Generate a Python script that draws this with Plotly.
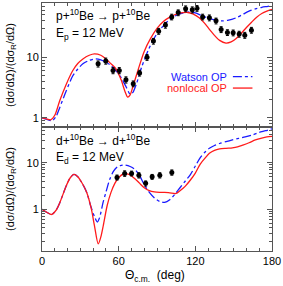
import plotly.graph_objects as go

# ---------------- data ----------------
# p + 10Be, top panel
theta_p_exp = [43.9, 49.9, 55.6, 60.5, 65.7, 71.4, 76.4, 82.2, 87.2, 91.3, 96.6, 101.5, 106.6,
               112.4, 117.6, 121.3, 125.7, 131.0, 136.2, 140.2, 145.1, 149.6, 154.3, 158.7, 163.9]
sig_p_exp = [7.8, 8.7, 6.05, 6.05, 4.25, 3.66, 5.5, 10.0, 18.5, 27.0, 34.0, 46.5, 54.7,
             63.5, 61.0, 64.5, 46.5, 45.0, 40.0, 28.8, 25.7, 25.4, 24.2, 23.2, 28.1]
err_p_exp = [0.9, 1.0, 0.7, 0.7, 0.5, 0.4, 0.6, 1.1, 2.0, 3.0, 3.7, 5.0, 6.0,
             7.0, 7.0, 7.0, 5.0, 5.0, 4.4, 3.2, 2.8, 2.8, 2.7, 2.6, 3.1]

theta_p_nl = [0, 4, 7, 10, 14, 19, 24, 28, 32, 37, 41, 46, 50, 54, 58, 62, 65, 67, 69, 71, 75,
              80, 85, 90, 95, 100, 106, 110, 114, 118, 123, 127, 131, 135, 139, 144, 148, 152,
              156, 160, 164, 168, 172, 176, 180]
sig_p_nl = [1.0, 0.95, 0.93, 1.1, 1.95, 3.6, 6.0, 7.9, 9.4, 10.8, 11.4, 10.8, 9.4, 7.8, 6.4, 4.2,
            2.7, 2.2, 2.4, 3.2, 6.0, 12.5, 20.5, 30, 39, 46, 52.7, 54.5, 55, 52, 45, 37, 29, 23,
            19, 17.2, 18, 20.5, 25, 31, 38, 46, 53, 58, 62]

theta_p_w = [0, 4, 8, 11, 14, 19, 24, 28, 32, 37, 42, 46, 50, 54, 58, 62, 66, 69, 71, 74, 78,
             83, 88, 92, 96, 100, 104, 108, 112, 116, 120, 124, 128, 132, 136, 141, 146, 152,
             157, 162, 167, 172, 176, 180]
sig_p_w = [1.0, 0.94, 0.9, 1.05, 1.5, 2.8, 4.9, 6.4, 7.8, 8.9, 9.4, 9.1, 8.3, 7.3, 6.0, 4.6,
           3.2, 2.45, 2.6, 3.7, 6.9, 12.9, 21, 28, 35, 42, 48, 52, 55, 56, 54, 50, 46, 43, 41,
           40, 41, 45, 51, 58, 63, 67, 69, 71]

# d + 10Be, bottom panel
theta_d_exp = [58.7, 64.7, 70.1, 75.8, 81.1, 86.2, 92.2, 101.6]
sig_d_exp = [4.84, 5.9, 5.9, 5.4, 3.6, 5.0, 5.4, 6.2]
err_d_exp = [0.6, 0.8, 0.7, 0.7, 0.45, 0.6, 0.7, 0.8]

theta_d_nl = [0, 4, 7.5, 11, 14, 19, 22, 25, 28, 31, 35, 38.5, 41, 44, 46, 48, 51, 54, 57, 60,
              64, 68, 72, 76, 80, 84, 88, 92, 96, 100, 105, 108, 112, 116, 120, 124, 128, 131,
              135, 139, 144, 149, 153, 157, 162, 167, 172, 176, 180]
sig_d_nl = [1.0, 0.85, 0.77, 0.95, 1.4, 3.2, 4.7, 5.6, 5.0, 3.8, 2.3, 1.05, 0.45, 0.18, 0.25,
            0.45, 1.2, 2.3, 3.6, 4.8, 5.8, 5.6, 4.7, 3.7, 2.9, 2.5, 2.35, 2.3, 2.3, 2.25, 2.18,
            2.5, 3.1, 4.2, 6.0, 9.5, 13, 16, 18.5, 19.8, 20.5, 21, 22, 24, 27, 31, 34, 36, 37]

theta_d_w = [0, 4, 7.5, 11, 14, 19, 22, 25, 28, 31, 35, 38, 41, 43.3, 45, 47.8, 50, 53, 56, 59,
             62, 65, 69, 72.5, 76, 80, 84, 88, 92, 96, 100, 104, 108, 112, 116, 120, 124, 128,
             131, 135, 139, 144, 149, 154, 159, 165, 170, 175, 180]
sig_d_w = [1.0, 0.85, 0.77, 0.95, 1.4, 3.2, 4.7, 5.6, 5.0, 3.8, 2.3, 1.2, 0.7, 0.53, 0.65, 1.4,
           2.3, 4.4, 6.6, 8.2, 8.8, 8.9, 8.3, 7.3, 5.5, 3.4, 2.3, 1.75, 1.47, 1.40, 1.6, 2.1,
           2.9, 4.0, 5.5, 8.5, 13, 17.5, 20.5, 23.5, 26, 28.5, 31, 33.5, 36, 40, 45, 49, 54]

x_ticks = [0, 60, 120, 180]
y_ticks = [1, 10]
y_ticktext = ["1", "10"]

# ---------------- style ----------------
RED = "#ff1a1a"
BLUE = "#1a1aff"
FONT = "Liberation Sans, Arial, sans-serif"
AXC = "#555555"

fig = go.Figure()

def curves(xn, yn, xw, yw, xe, ye, ee, xa, ya):
    fig.add_trace(go.Scatter(x=xw, y=yw, mode="lines", line=dict(color=BLUE, width=1.3, dash="dashdot", shape="spline", smoothing=0.8),
                             xaxis=xa, yaxis=ya, showlegend=False))
    fig.add_trace(go.Scatter(x=xn, y=yn, mode="lines", line=dict(color=RED, width=1.3, shape="spline", smoothing=0.8),
                             xaxis=xa, yaxis=ya, showlegend=False))
    fig.add_trace(go.Scatter(x=xe, y=ye, mode="markers", marker=dict(color="black", size=5),
                             error_y=dict(type="data", array=ee, color="black", thickness=1, width=1.5),
                             xaxis=xa, yaxis=ya, showlegend=False))

curves(theta_p_nl, sig_p_nl, theta_p_w, sig_p_w, theta_p_exp, sig_p_exp, err_p_exp, "x2", "y2")
curves(theta_d_nl, sig_d_nl, theta_d_w, sig_d_w, theta_d_exp, sig_d_exp, err_d_exp, "x", "y")

minor_y = [0.2, 0.3, 0.4, 0.5, 0.6, 0.7, 0.8, 0.9, 2, 3, 4, 5, 6, 7, 8, 9, 20, 30, 40, 50, 60, 70]

xcommon = dict(range=[0, 180], tickvals=x_ticks, ticks="inside", ticklen=5, tickcolor=AXC,
               showline=True, linecolor=AXC, linewidth=1, mirror="allticks", showgrid=False,
               zeroline=False, minor=dict(dtick=10, ticks="inside", ticklen=3, tickcolor=AXC),
               ticklabeloverflow="allow",
               tickfont=dict(size=11, color="black", family=FONT))
ycommon = dict(type="log", tickvals=y_ticks, ticktext=y_ticktext, ticks="inside", ticklen=5,
               tickcolor=AXC, showline=True, linecolor=AXC, linewidth=1, mirror="allticks",
               showgrid=False, zeroline=False,
               minor=dict(tickvals=minor_y, ticks="inside", ticklen=3, tickcolor=AXC),
               tickfont=dict(size=11, color="black", family=FONT))

fig.update_layout(
    width=283, height=286,
    margin=dict(l=42, r=9, t=2, b=35),
    paper_bgcolor="white", plot_bgcolor="white",
    font=dict(family=FONT, size=11, color="black"),
    xaxis=dict(**xcommon, domain=[0, 1], anchor="y"),
    yaxis=dict(**ycommon, domain=[0, 0.5], anchor="x", range=[-0.9, 1.77]),
    xaxis2=dict(**xcommon, domain=[0, 1], anchor="y2", matches="x", showticklabels=False),
    yaxis2=dict(**ycommon, domain=[0.5, 1], anchor="x2", range=[-0.152, 1.897]),
    showlegend=False,
)

ann = []
ytitle = "(dσ/dΩ)/(dσ<sub>R</sub>/dΩ)"
for yc in (0.75, 0.25):
    ann.append(dict(text=ytitle, xref="paper", yref="paper", x=-0.135, y=yc, textangle=-90,
                    showarrow=False, font=dict(size=11), xanchor="center", yanchor="middle"))
ann.append(dict(text="Θ<sub>c.m.</sub>  (deg)", xref="paper", yref="paper", x=0.49, y=-0.1,
                showarrow=False, xanchor="center", yanchor="middle", font=dict(size=12)))
ann.append(dict(text="p+<sup>10</sup>Be → p+<sup>10</sup>Be", xref="paper", yref="paper",
                x=0.05, y=0.952, showarrow=False, xanchor="left", yanchor="middle", font=dict(size=12)))
ann.append(dict(text="E<sub>p</sub> = 12 MeV", xref="paper", yref="paper",
                x=0.05, y=0.875, showarrow=False, xanchor="left", yanchor="middle", font=dict(size=12)))
ann.append(dict(text="d+<sup>10</sup>Be → d+<sup>10</sup>Be", xref="paper", yref="paper",
                x=0.05, y=0.447, showarrow=False, xanchor="left", yanchor="middle", font=dict(size=12)))
ann.append(dict(text="E<sub>d</sub> = 12 MeV", xref="paper", yref="paper",
                x=0.05, y=0.375, showarrow=False, xanchor="left", yanchor="middle", font=dict(size=12)))
# legend
ann.append(dict(text="Watson OP", xref="paper", yref="paper", x=0.815, y=0.703, showarrow=False,
                xanchor="right", yanchor="middle", font=dict(size=11, color=BLUE)))
ann.append(dict(text="nonlocal OP", xref="paper", yref="paper", x=0.815, y=0.657, showarrow=False,
                xanchor="right", yanchor="middle", font=dict(size=11, color=RED)))
fig.update_layout(annotations=ann)
fig.add_shape(type="line", xref="paper", yref="paper", x0=0.83, x1=0.915, y0=0.703, y1=0.703,
              line=dict(color=BLUE, width=1.3, dash="dashdot"))
fig.add_shape(type="line", xref="paper", yref="paper", x0=0.83, x1=0.915, y0=0.657, y1=0.657,
              line=dict(color=RED, width=1.3))

fig.write_html("out.html", config={"displayModeBar": False},
               post_script="document.body.style.margin='0';document.body.style.padding='0';")
